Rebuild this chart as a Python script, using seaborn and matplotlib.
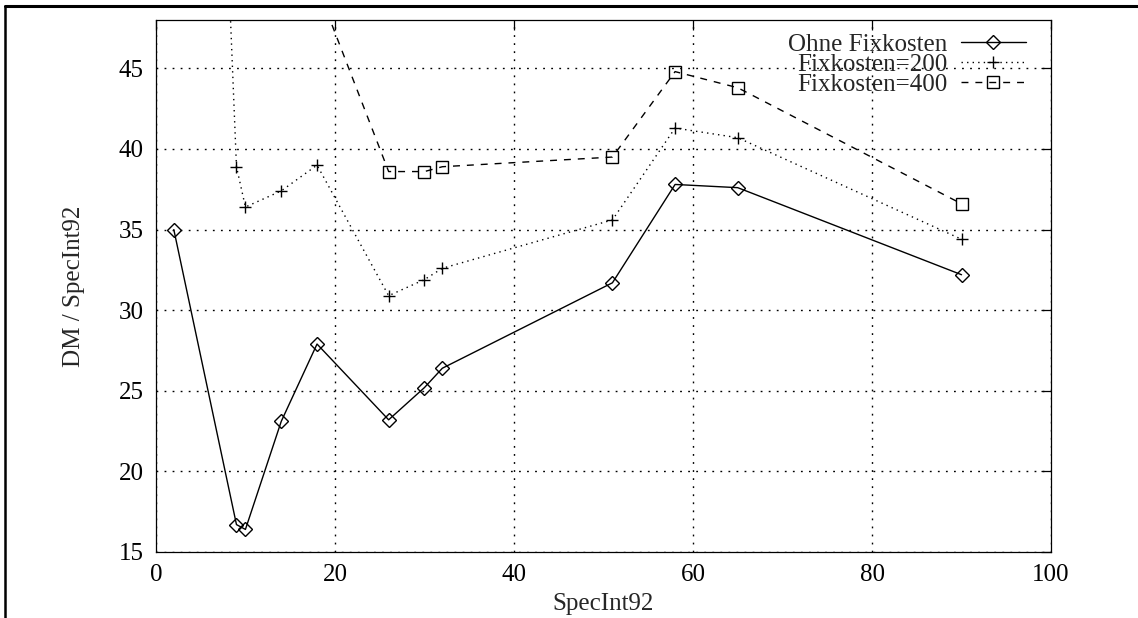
import pandas as pd
import matplotlib
matplotlib.use("Agg")
import matplotlib.pyplot as plt
import seaborn as sns
from matplotlib.lines import Line2D

# Daten (Punkte oberhalb von 48 liegen ausserhalb des Bildes)
spec = [2, 9, 10, 14, 18, 26, 30, 32, 51, 58, 65, 90]
ohne_fix = [35.0, 16.7, 16.4, 23.1, 27.9, 23.2, 25.2, 26.4, 31.7, 37.8, 37.6, 32.2]
fix_200 = [135.0, 38.9, 36.4, 37.4, 39.0, 30.9, 31.9, 32.6, 35.6, 41.3, 40.7, 34.4]
fix_400 = [235.0, 61.1, 56.4, 51.7, 50.1, 38.6, 38.6, 38.9, 39.5, 44.8, 43.8, 36.6]
labels = ["Ohne Fixkosten", "Fixkosten=200", "Fixkosten=400"]

df = pd.concat([
    pd.DataFrame({"SpecInt92": spec, "wert": ohne_fix, "serie": labels[0]}),
    pd.DataFrame({"SpecInt92": spec, "wert": fix_200, "serie": labels[1]}),
    pd.DataFrame({"SpecInt92": spec, "wert": fix_400, "serie": labels[2]}),
])

sns.set_style("white")
plt.rcParams["font.family"] = ["Liberation Serif", "DejaVu Serif"]
plt.rcParams["font.size"] = 18

fig = plt.figure(figsize=(11.38, 6.18), dpi=100)
ax = fig.add_axes([0.137, 0.1068, 0.7866, 0.8608])

# Stil je Serie: Marker, Linienart, Markergroesse
stile = {
    labels[0]: ("D", "-", 7),
    labels[1]: ("+", (0, (1, 3)), 8),
    labels[2]: ("s", (0, (5, 5)), 9.2),
}

for name in labels:
    marker, ls, ms = stile[name]
    sns.lineplot(
        data=df[df["serie"] == name], x="SpecInt92", y="wert",
        marker=marker, linestyle=ls, markersize=ms,
        color="black", linewidth=1.0,
        markerfacecolor="none", markeredgecolor="black", markeredgewidth=1.0,
        legend=False, ax=ax,
    )

ax.set_xlim(0, 100)
ax.set_ylim(15, 48)
ax.set_xticks([0, 20, 40, 60, 80, 100])
ax.set_yticks([15, 20, 25, 30, 35, 40, 45])
ax.grid(True, color="black", linestyle=(0, (1.3, 4.5)), linewidth=1.0)
ax.tick_params(direction="in", length=7, width=0.9, top=True, right=True,
               labelsize=18, pad=9, colors="black")
for s in ax.spines.values():
    s.set_color("black")
    s.set_linewidth(0.9)

ax.set_xlabel("SpecInt92", fontsize=18, labelpad=5)
ax.set_ylabel("DM / SpecInt92", fontsize=18, labelpad=24)

leg = ax.legend(
    handles=ax.lines[:3], labels=labels, loc="upper right",
    bbox_to_anchor=(0.972, 0.975), markerfirst=False, frameon=False,
    handlelength=2.6, handletextpad=0.55, labelspacing=-0.1,
    borderpad=0, borderaxespad=0, fontsize=18,
)

# Rahmen oben und links (Bild ist abgeschnitten)
fig.add_artist(Line2D([0.0045, 1.0], [0.9895, 0.9895], transform=fig.transFigure,
                      color="black", linewidth=2.2))
fig.add_artist(Line2D([0.0045, 0.0045], [0.0, 0.9895], transform=fig.transFigure,
                      color="black", linewidth=1.8))

plt.savefig("out.png", dpi=100)
